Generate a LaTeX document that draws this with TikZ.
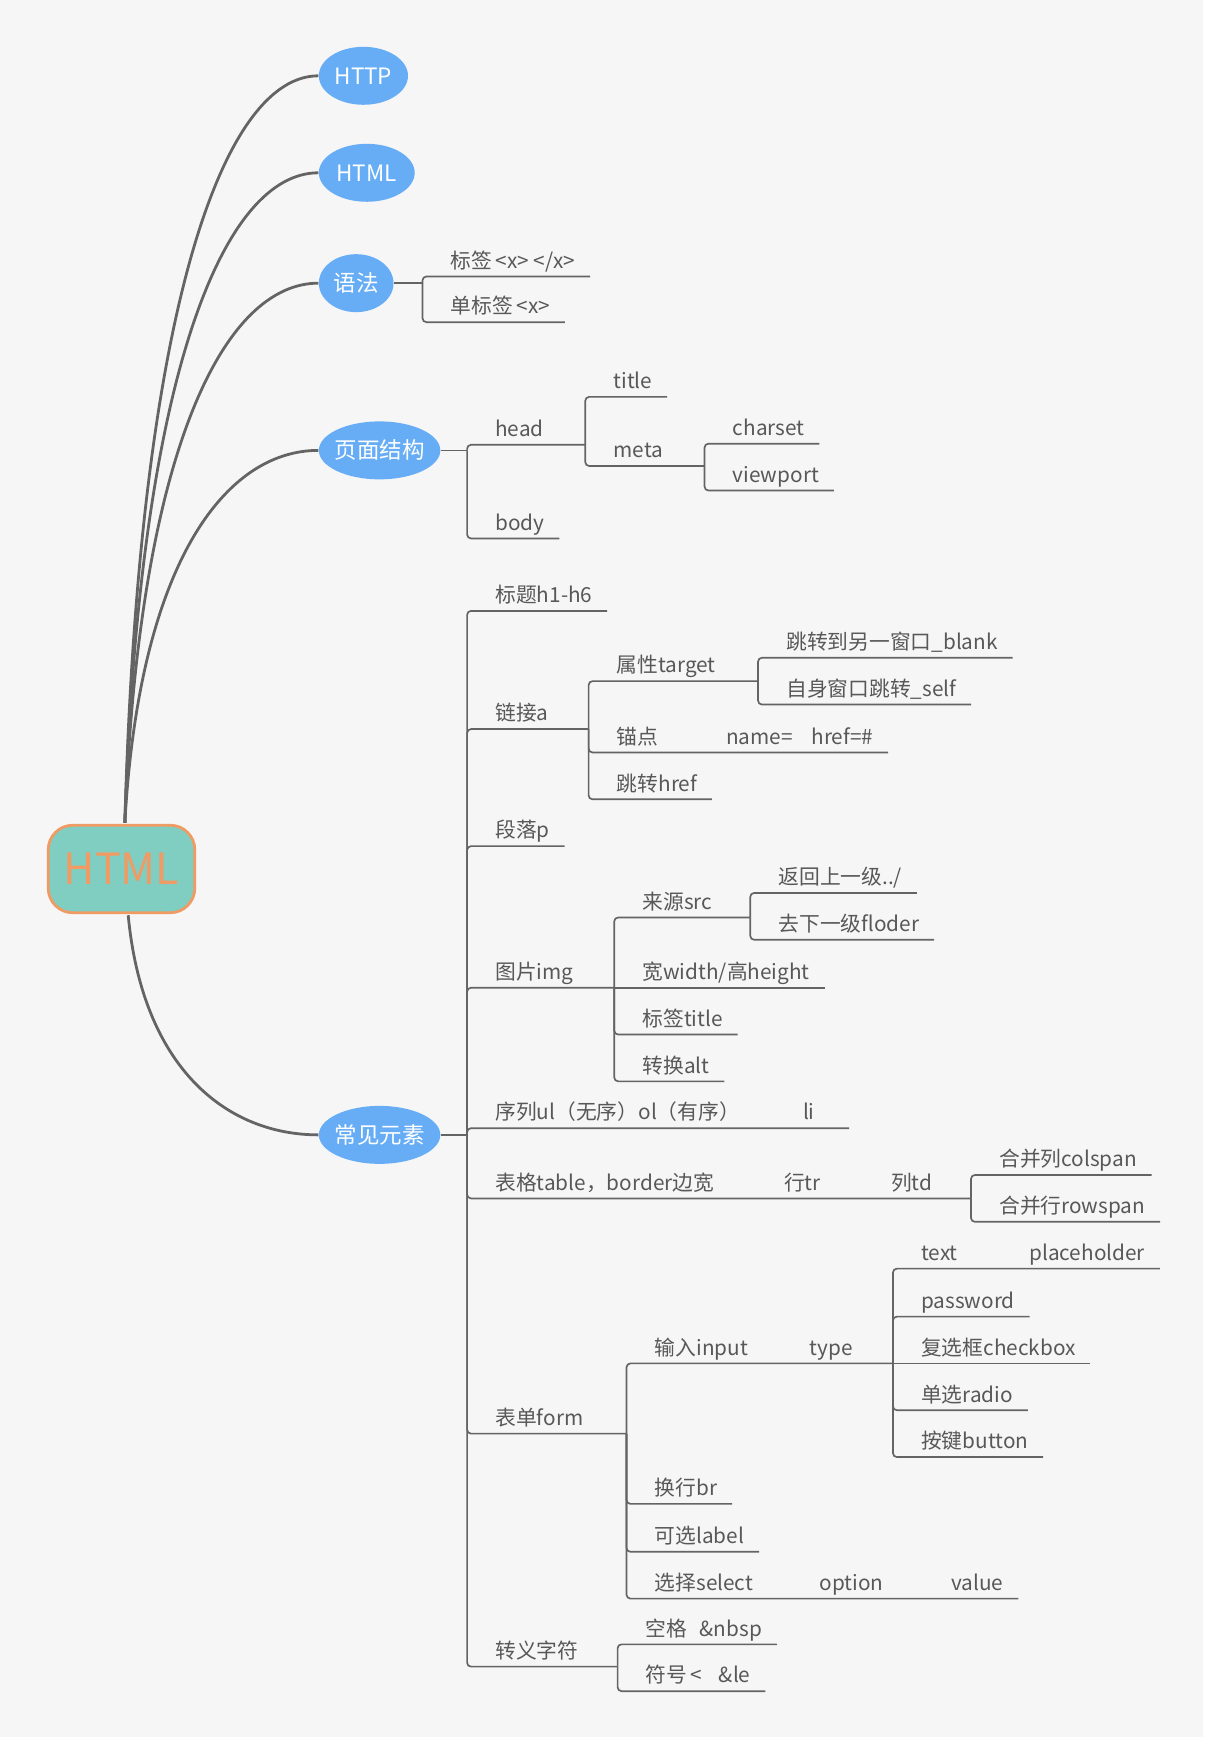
\documentclass[tikz,border=0pt]{standalone}
\usepackage{fontspec}
\setmainfont{Noto Sans CJK SC}
\usepackage{tikz}
\usetikzlibrary{shapes.geometric}
\usetikzlibrary{calc}

\definecolor{paper}{RGB}{246,246,246}
\definecolor{ink}{RGB}{88,88,88}
\definecolor{wire}{RGB}{100,100,100}
\definecolor{bubble}{RGB}{102,173,246}
\definecolor{rootfill}{RGB}{128,205,193}
\definecolor{rootline}{RGB}{240,155,100}

\begin{document}
\begin{tikzpicture}[x=0.02cm,y=-0.02cm,
			root node/.style={rectangle,rounded corners=0.44cm,draw=rootline,line width=0.05cm,
				fill=rootfill,text=rootline,font=\fontsize{22}{26}\selectfont,
				minimum width=2.63cm,minimum height=1.57cm},
			main node/.style={ellipse,fill=bubble,text=white,font=\fontsize{11.5}{14}\selectfont,
				inner xsep=-0.12cm,inner ysep=0pt,minimum height=1.04cm},
			sub node/.style={anchor=south west,inner sep=0pt,text height=0.32cm,text depth=0.14cm,
				text=ink,font=\fontsize{10.6}{13}\selectfont,
				execute at begin node=\hspace*{0.5cm},execute at end node=\hspace*{0.26cm}},
			trunk/.style={draw=wire,line width=0.05cm},
			branch/.style={draw=wire,line width=0.03cm,rounded corners=0.07cm}]
			
			\fill[white] (0,0) rectangle (1085,1568);
			\fill[paper] (0,0) rectangle (1079,1558);
			\useasboundingbox (0,0) rectangle (1085,1568);
			
			\node[root node] (Root) at (109,779.5) {HTML};
			\node[main node,minimum width=1.6cm] (Http) at (326,68) {HTTP};
			\node[main node,minimum width=1.72cm] (Html) at (329,155) {HTML};
			\node[main node,minimum width=1.34cm] (Syntax) at (319.5,254) {语法};
			\node[main node,minimum width=2.18cm] (Page) at (340.5,404) {页面结构};
			\node[main node,minimum width=2.18cm] (Elem) at (340.5,1018) {常见元素};
			
			\coordinate (Top) at ($(Root.north)+(3,-1)$);
			\coordinate (Bot) at ($(Root.south)+(6,1)$);
			\draw[trunk] (Top) .. controls (125,269) and (202,68) .. (Http.west);
			\draw[trunk] (Top) .. controls (125,330) and (202,155) .. (Html.west);
			\draw[trunk] (Top) .. controls (125,400) and (202,254) .. (Syntax.west);
			\draw[trunk] (Top) .. controls (125,505) and (202,404) .. (Page.west);
			\draw[trunk] (Bot) .. controls (128,959) and (204,1018) .. (Elem.west);
			
			\coordinate (SyntaxJ) at (379,254);
			\node[sub node] (Tag) at (379,248) {标签\,<x>\ </x>};
			\node[sub node] (Single) at (379,289) {单标签\,<x>};
			\draw[branch] (Syntax.east) -- (SyntaxJ);
			\draw[branch] (SyntaxJ) |- (Tag.south east);
			\draw[branch] (SyntaxJ) |- (Single.south east);
			
			\coordinate (PageJ) at (419,404);
			\coordinate (HeadJ) at (525,399);
			\coordinate (MetaJ) at (632,418);
			\node[sub node] (Head) at (419,399) {head};
			\node[sub node] (Title) at (525,356) {title};
			\node[sub node] (Meta) at (525,418) {meta};
			\node[sub node] (Charset) at (632,398) {charset};
			\node[sub node] (Viewport) at (632,440) {viewport};
			\node[sub node] (Body) at (419,483) {body};
			\draw[branch] (Page.east) -- (PageJ);
			\draw[branch] (PageJ) |- (HeadJ);
			\draw[branch] (PageJ) |- (Body.south east);
			\draw[branch] (HeadJ) |- (Title.south east);
			\draw[branch] (HeadJ) |- (MetaJ);
			\draw[branch] (MetaJ) |- (Charset.south east);
			\draw[branch] (MetaJ) |- (Viewport.south east);
			
			\coordinate (ElemJ) at (419,1018);
			\coordinate (LinkJ) at (528,654);
			\coordinate (TargetJ) at (680,611);
			\coordinate (ImgJ) at (551,886);
			\coordinate (SrcJ) at (673,823);
			\coordinate (TdJ) at (871,1075);
			\coordinate (FormJ) at (562,1286);
			\coordinate (TypeJ) at (801,1223);
			\coordinate (EscJ) at (554,1495);
			
			\node[sub node] (Heading) at (419,548) {标题h1-h6};
			\node[sub node] (Link) at (419,654) {链接a};
			\node[sub node] (Target) at (528,611) {属性target};
			\node[sub node] (Blank) at (680,590) {跳转到另一窗口\_blank};
			\node[sub node] (Self) at (680,632) {自身窗口跳转\_self};
			\node[sub node] (Anchor) at (528,675) {锚点};
			\node[sub node] (AnchorAttr) at (626,675) {name=\hspace{0.9em}href=\#};
			\node[sub node] (Jump) at (528,717) {跳转href};
			\node[sub node] (Para) at (419,759) {段落p};
			\node[sub node] (Img) at (419,886) {图片img};
			\node[sub node] (Src) at (551,823) {来源src};
			\node[sub node] (Up) at (673,801) {返回上一级../};
			\node[sub node] (Down) at (673,843) {去下一级floder};
			\node[sub node] (Size) at (551,886) {宽width/高height};
			\node[sub node] (ImgTitle) at (551,928) {标签title};
			\node[sub node] (Alt) at (551,970) {转换alt};
			\node[sub node] (List) at (419,1012) {序列ul（无序）ol（有序）};
			\node[sub node] (Li) at (695,1012) {li\kern0.35cm};
			\node[sub node] (Table) at (419,1075) {表格table，border边宽};
			\node[sub node] (Tr) at (678,1075) {行tr};
			\node[sub node] (Td) at (774,1075) {列td};
			\node[sub node] (Colspan) at (871,1054) {合并列colspan};
			\node[sub node] (Rowspan) at (871,1096) {合并行rowspan};
			\node[sub node] (Form) at (419,1286) {表单form};
			\node[sub node] (Input) at (562,1223) {输入input};
			\node[sub node] (Type) at (701,1223) {type};
			\node[sub node] (Text) at (801,1138) {text};
			\node[sub node] (Holder) at (898,1138) {placeholder};
			\node[sub node] (Password) at (801,1181) {password};
			\node[sub node] (Checkbox) at (801,1223) {复选框checkbox};
			\node[sub node] (Radio) at (801,1265) {单选radio};
			\node[sub node] (Button) at (801,1307) {按键button};
			\node[sub node] (Br) at (562,1349) {换行br};
			\node[sub node] (Label) at (562,1392) {可选label};
			\node[sub node] (Select) at (562,1434) {选择select};
			\node[sub node] (Option) at (710,1434) {option};
			\node[sub node] (Value) at (828,1434) {value};
			\node[sub node] (Escape) at (419,1495) {转义字符};
			\node[sub node] (Nbsp) at (554,1475) {空格\hspace{0.6em}\&nbsp};
			\node[sub node] (Le) at (554,1517) {符号\,<\hspace{0.8em}\&le};
			
			\draw[branch] (Elem.east) -- (ElemJ);
			\draw[branch] (ElemJ) |- (Heading.south east);
			\draw[branch] (ElemJ) |- (LinkJ);
			\draw[branch] (LinkJ) |- (TargetJ);
			\draw[branch] (TargetJ) |- (Blank.south east);
			\draw[branch] (TargetJ) |- (Self.south east);
			\draw[branch] (LinkJ) |- (AnchorAttr.south east);
			\draw[branch] (LinkJ) |- (Jump.south east);
			\draw[branch] (ElemJ) |- (Para.south east);
			\draw[branch] (ElemJ) |- (ImgJ);
			\draw[branch] (ImgJ) |- (SrcJ);
			\draw[branch] (SrcJ) |- (Up.south east);
			\draw[branch] (SrcJ) |- (Down.south east);
			\draw[branch] (ImgJ) -- (Size.south east);
			\draw[branch] (ImgJ) |- (ImgTitle.south east);
			\draw[branch] (ImgJ) |- (Alt.south east);
			\draw[branch] (ElemJ) |- (Li.south east);
			\draw[branch] (ElemJ) |- (TdJ);
			\draw[branch] (TdJ) |- (Colspan.south east);
			\draw[branch] (TdJ) |- (Rowspan.south east);
			\draw[branch] (ElemJ) |- (FormJ);
			\draw[branch] (FormJ) |- (TypeJ);
			\draw[branch] (TypeJ) |- (Holder.south east);
			\draw[branch] (TypeJ) |- (Password.south east);
			\draw[branch] (TypeJ) -- (Checkbox.south east);
			\draw[branch] (TypeJ) |- (Radio.south east);
			\draw[branch] (TypeJ) |- (Button.south east);
			\draw[branch] (FormJ) |- (Br.south east);
			\draw[branch] (FormJ) |- (Label.south east);
			\draw[branch] (FormJ) |- (Value.south east);
			\draw[branch] (ElemJ) |- (EscJ);
			\draw[branch] (EscJ) |- (Nbsp.south east);
			\draw[branch] (EscJ) |- (Le.south east);
		\end{tikzpicture}
\end{document}
